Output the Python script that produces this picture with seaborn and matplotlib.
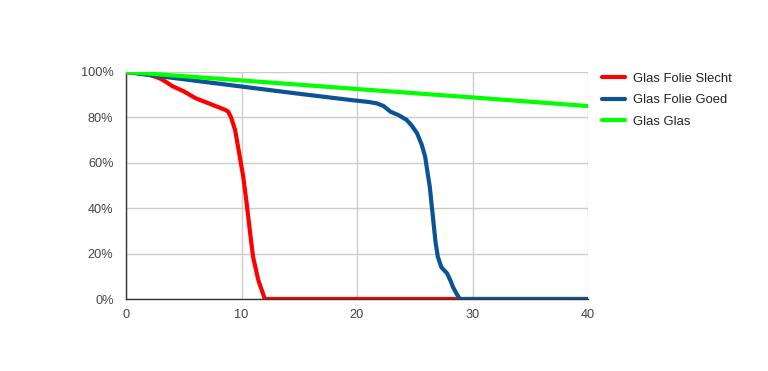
import matplotlib
matplotlib.use("Agg")
import matplotlib.pyplot as plt
from matplotlib.ticker import FuncFormatter
from matplotlib.lines import Line2D
import seaborn as sns
import pandas as pd

series_names = ["Glas Folie Slecht", "Glas Folie Goed", "Glas Glas"]

slecht_x = [0, 1, 2, 2.5, 3, 3.5, 4, 5, 6, 7, 8, 8.6, 8.85, 9.1, 9.45, 9.85, 10.15, 10.45, 10.75, 11.0, 11.45, 11.9, 12.0, 13, 20, 30, 40]
slecht_y = [100, 99.5, 98.8, 98, 97, 95.5, 93.8, 91.5, 88.5, 86.5, 84.5, 83.3, 82.5, 80, 74.4, 62.7, 53.9, 42, 29, 18.6, 8.4, 1.8, 0, 0, 0, 0, 0]

goed_x = [0, 5, 10, 15, 19.4, 21, 21.7, 22.3, 22.9, 23.6, 24.3, 24.8, 25.2, 25.6, 25.9, 26.1, 26.3, 26.6, 26.8, 27.0, 27.3, 27.8, 28.1, 28.3, 28.6, 28.9, 30, 40]
goed_y = [100, 96.8, 93.6, 90.4, 87.7, 86.8, 86.2, 85, 82.5, 81, 78.9, 76, 73, 68, 62.7, 56, 49.5, 34.8, 25, 18.6, 14, 11.3, 8, 5.4, 2.5, 0, 0, 0]

glas_x = [0, 10, 20, 30, 40]
glas_y = [100, 96.3, 92.5, 88.8, 85]

x_ticks = [0, 10, 20, 30, 40]
y_ticks = [0, 0.2, 0.4, 0.6, 0.8, 1.0]

colors = ["#ff0000", "#0b5394", "#00ff00"]

frames = []
for name, xs, ys in zip(series_names, [slecht_x, goed_x, glas_x], [slecht_y, goed_y, glas_y]):
    frames.append(pd.DataFrame({"x": xs, "y": [v / 100 for v in ys], "series": name}))
df = pd.concat(frames, ignore_index=True)

sns.set_theme(style="white")
plt.rcParams["font.family"] = ["Liberation Sans", "DejaVu Sans"]

fig = plt.figure(figsize=(7.68, 3.71), dpi=100)
ax = fig.add_axes([126 / 768, 1 - 299 / 371, (588 - 126) / 768, (299 - 72) / 371])

sns.lineplot(data=df, x="x", y="y", hue="series", hue_order=series_names,
             palette=colors, linewidth=3, sort=False, estimator=None, ax=ax,
             legend=False)
for ln in ax.get_lines():
    ln.set_solid_joinstyle("round")
    ln.set_solid_capstyle("round")

ax.set_xlim(0, 40)
ax.set_ylim(0, 1)
ax.set_xticks(x_ticks)
ax.set_yticks(y_ticks)
ax.yaxis.set_major_formatter(FuncFormatter(lambda v, p: f"{int(round(v * 100))}%"))
ax.grid(True, color="#cccccc", linewidth=1)
ax.set_axisbelow(True)
ax.tick_params(axis="both", length=0, labelsize=9.2, colors="#444444")
ax.tick_params(axis="y", pad=9)
ax.tick_params(axis="x", pad=7)
ax.set_xlabel("")
ax.set_ylabel("")
for s in ["top", "right"]:
    ax.spines[s].set_visible(False)
for s in ["left", "bottom"]:
    ax.spines[s].set_color("#333333")
    ax.spines[s].set_linewidth(1)
    ax.spines[s].set_zorder(1.5)

handles = [Line2D([0], [0], color=c, linewidth=3) for c in colors]
fig.legend(handles, series_names, loc="upper left", bbox_to_anchor=(602 / 768, 1 - 72.5 / 371),
           frameon=False, fontsize=9.4, handlelength=1.75, handletextpad=0.6,
           labelspacing=0.72, borderaxespad=0, borderpad=0, labelcolor="#222222")

fig.savefig("out.png", dpi=100)
